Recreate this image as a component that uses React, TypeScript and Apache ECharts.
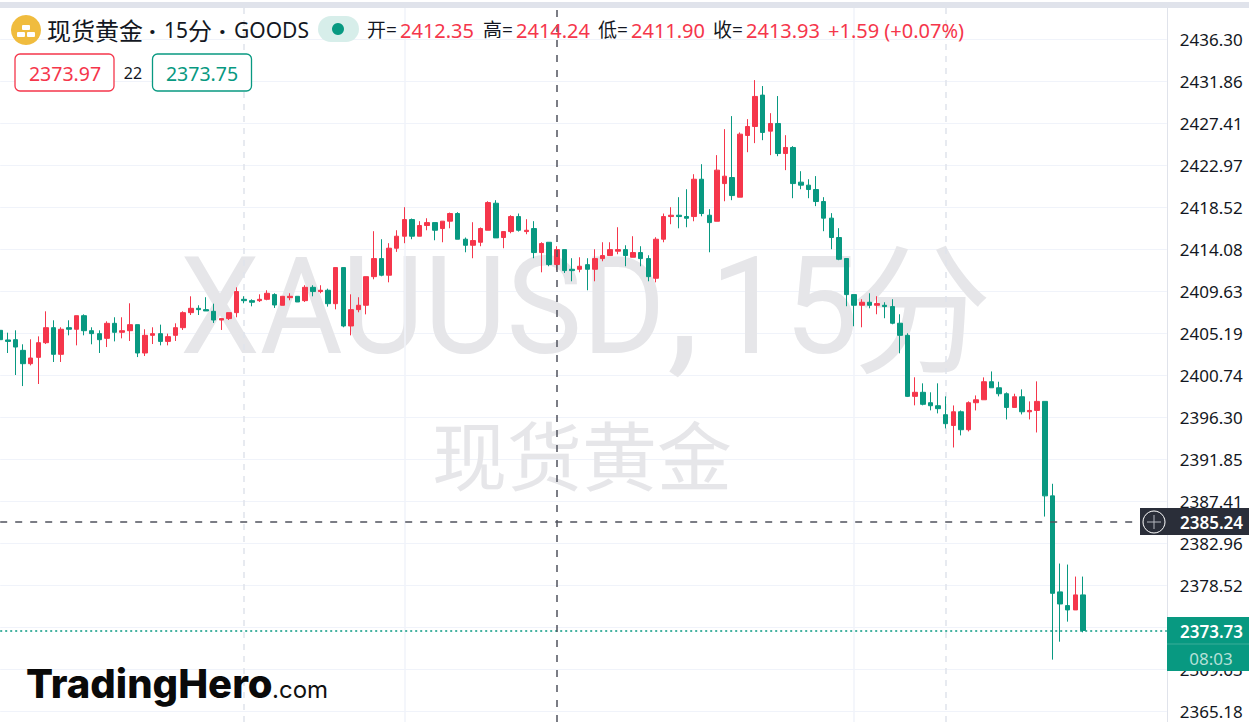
import React, { useEffect, useRef } from "react";
import * as echarts from "echarts";

// [open, close, low, high]
const sessionA = [
  [2405.49,2404.50,2403.72,2407.71],[2404.47,2404.32,2403.09,2405.24],[2404.50,2403.72,2400.76,2405.49],[2403.37,2401.96,2399.59,2404.01],
  [2401.96,2402.56,2401.78,2404.54],[2402.63,2404.18,2399.81,2404.85],[2404.18,2405.77,2404.04,2407.50],[2405.77,2402.95,2402.14,2406.55],
  [2402.95,2405.60,2402.14,2405.81],[2405.77,2405.60,2404.96,2406.55],[2405.60,2407.04,2403.90,2407.04],[2407.04,2405.45,2404.96,2407.18],
  [2405.45,2405.14,2404.01,2405.81],[2405.14,2404.50,2403.09,2405.49],[2404.64,2406.23,2403.72,2406.44],[2406.23,2405.28,2404.32,2406.87],
  [2405.28,2405.45,2404.64,2406.87],[2405.45,2406.09,2404.36,2408.35],[2406.09,2403.09,2402.66,2406.09],[2403.09,2404.96,2402.77,2405.60],
  [2404.96,2405.14,2404.04,2405.81],[2405.14,2404.32,2403.90,2406.09],[2404.32,2404.82,2403.90,2405.14],[2404.96,2405.77,2404.36,2406.23],
  [2405.77,2407.36,2405.53,2407.50],[2407.36,2407.82,2407.11,2409.09],[2407.82,2407.68,2407.11,2408.14],[2407.68,2407.54,2407.54,2408.99],
  [2407.50,2406.58,2406.27,2408.31],[2406.58,2406.73,2405.53,2406.73],[2406.73,2407.36,2406.58,2407.36],[2407.36,2409.59,2406.87,2410.04],
  [2408.77,2408.63,2408.35,2409.09],[2408.63,2408.46,2408.03,2408.77],[2408.63,2408.77,2408.49,2409.30],[2408.77,2409.41,2408.67,2409.73],
  [2409.27,2408.17,2407.86,2409.41],
];
const sessionB = [
  [2408.14,2409.09,2408.14,2409.09],[2408.95,2409.09,2408.67,2409.41],[2409.09,2408.49,2408.49,2409.09],[2408.63,2410.04,2408.49,2410.26],
  [2410.04,2409.59,2409.09,2410.26],[2409.59,2409.73,2409.41,2410.26],[2409.73,2408.31,2408.00,2409.90],[2408.31,2412.13,2407.71,2412.13],
  [2412.13,2405.95,2405.81,2412.13],[2405.95,2407.68,2404.96,2409.30],[2407.68,2408.14,2407.40,2408.99],[2408.14,2411.17,2407.18,2411.17],
  [2411.17,2413.08,2410.89,2415.98],[2413.08,2411.32,2411.21,2415.13],[2411.32,2414.18,2410.57,2414.71],[2414.18,2415.45,2413.79,2416.08],
  [2415.45,2417.21,2414.71,2418.52],[2417.21,2415.45,2415.13,2417.32],[2415.45,2416.58,2415.45,2417.04],[2416.58,2416.89,2416.08,2417.35],
  [2416.89,2416.08,2415.02,2416.89],[2416.26,2417.04,2414.81,2417.04],[2417.04,2417.85,2416.29,2417.95],[2417.85,2415.13,2415.13,2417.99],
  [2415.13,2414.49,2413.75,2415.31],[2414.49,2414.99,2413.12,2416.93],[2414.81,2416.26,2414.39,2416.37],[2416.08,2419.01,2416.08,2419.15],
  [2418.94,2415.27,2415.27,2419.26],[2415.31,2415.94,2414.18,2415.94],[2415.94,2417.53,2415.76,2417.67],[2417.53,2416.08,2415.94,2417.85],
  [2415.94,2416.08,2415.66,2417.25],[2416.26,2413.72,2413.12,2417.04],[2413.72,2414.67,2411.63,2414.81],[2414.81,2412.45,2412.27,2414.81],
  [2412.45,2414.03,2411.85,2414.39],
];
const sessionC = [
  [2414.03,2411.81,2411.56,2414.03],[2411.95,2411.81,2410.68,2413.12],[2411.95,2412.27,2411.63,2413.22],[2412.44,2411.95,2409.73,2413.12],
  [2411.95,2413.08,2410.68,2414.07],[2413.08,2413.40,2412.80,2414.81],[2413.40,2414.03,2413.40,2414.81],[2413.86,2414.03,2413.54,2416.40],
  [2414.03,2413.40,2412.27,2414.49],[2413.22,2413.72,2413.22,2415.45],[2413.72,2413.08,2412.27,2414.39],[2413.08,2411.17,2410.68,2413.43],
  [2411.00,2415.13,2410.57,2415.34],[2415.13,2417.53,2414.81,2417.85],[2417.53,2417.67,2416.72,2418.52],[2417.67,2417.53,2416.29,2419.58],
  [2417.53,2417.35,2416.40,2420.42],[2417.53,2421.48,2417.03,2422.01],[2421.48,2417.85,2417.56,2423.07],[2417.67,2416.89,2413.75,2418.31],
  [2417.03,2422.44,2417.03,2424.03],[2421.02,2421.80,2419.15,2426.78],[2421.66,2419.75,2419.26,2428.16],[2419.58,2426.25,2419.58,2426.43],
  [2426.11,2427.06,2424.34,2427.84],[2427.06,2430.24,2425.30,2431.97],[2430.38,2426.43,2425.61,2431.34],[2426.57,2427.38,2424.03,2428.47],
  [2427.38,2424.20,2423.92,2430.28],[2424.20,2424.84,2422.44,2426.14],[2424.84,2421.02,2419.47,2424.98],[2421.17,2420.85,2420.42,2422.33],
  [2420.85,2420.39,2419.47,2421.48],
];
const sessionD = [
  [2420.39,2419.12,2418.63,2421.81],[2419.12,2417.36,2415.98,2419.58],[2417.36,2415.31,2414.07,2417.89],[2415.31,2413.01,2412.91,2416.30],
  [2413.09,2409.27,2408.04,2413.09],[2409.27,2408.14,2405.92,2409.27],[2408.14,2408.46,2405.81,2408.78],[2408.46,2408.14,2407.82,2409.41],
  [2408.14,2408.32,2407.19,2409.10],[2408.14,2408.00,2406.77,2408.46],[2408.00,2406.24,2406.13,2408.78],[2406.24,2404.96,2403.06,2407.19],
  [2404.96,2398.50,2398.43,2405.18],[2398.50,2398.93,2397.55,2400.52],[2398.93,2397.66,2397.55,2399.88],[2397.83,2397.51,2397.02,2398.93],
  [2397.51,2397.20,2396.70,2399.88],[2396.56,2395.61,2395.11,2398.50],
];
const sessionE = [
  [2395.42,2396.87,2393.09,2397.54],[2396.87,2394.97,2394.37,2397.01],[2394.97,2397.83,2394.79,2397.97],[2397.83,2398.14,2397.01,2398.60],
  [2398.14,2400.05,2398.14,2400.51],[2400.05,2399.41,2399.41,2401.14],[2399.41,2398.78,2398.50,2400.05],[2398.78,2397.33,2396.06,2398.92],
  [2397.33,2398.46,2397.33,2398.78],[2398.46,2396.87,2396.59,2399.24],[2396.87,2397.01,2396.06,2397.97],[2397.01,2397.97,2394.68,2400.09],
  [2397.97,2387.97,2385.78,2397.97],[2387.97,2377.66,2370.64,2389.25],[2377.81,2376.53,2372.54,2380.81],[2376.36,2375.90,2374.66,2380.70],
  [2375.90,2377.49,2375.90,2379.43],[2377.49,2373.73,2373.53,2379.43],
];
const tickLabels = [2436.30,2431.86,2427.41,2422.97,2418.52,2414.08,2409.63,2405.19,2400.74,2396.30,2391.85,2387.41,2382.96,2378.52,2369.63,2365.18];
const gridTicks = [2436.30,2431.86,2427.41,2422.97,2418.52,2414.08,2409.63,2405.19,2400.74,2396.30,2391.85,2387.41,2382.96,2378.52,2374.07,2369.63,2365.18];
const crosshairPrice = 2385.24;
const lastPrice = 2373.73;
const ohlcParts = [
  ["开=", "2412.35"],
  ["高=", "2414.24"],
  ["低=", "2411.90"],
  ["收=", "2413.93"],
];

const RED = "#F5364B";
const GREEN = "#089981";
const LINE = "#F0F3FA";
const EDGE = "#E0E3EB";
const MARK = "#E6E6E9";
const UI = "'Noto Sans','Noto Sans CJK SC',sans-serif";

const STEP = 7.625;
const CATS = 154;

export default function App() {
  const ref = useRef<HTMLDivElement>(null);
  useEffect(() => {
    document.body.style.margin = "0";
    const chart = echarts.init(ref.current!, null, { renderer: "svg" });
    const candles = [...sessionA, ...sessionB, ...sessionC, ...sessionD, ...sessionE];
    const categories = Array.from({ length: CATS }, (_, i) => String(i));
    const txt = (x: number, y: number, text: string, fill: string, fontSize: number, extra: any = {}) => ({
      type: "text", x, y, z: 50,
      style: { text, fill, fontSize, fontFamily: UI, verticalAlign: "middle", ...extra },
    });
    const ohlcX = [367, 483, 598, 713];
    const ohlcEls: any[] = [];
    ohlcParts.forEach(([k, v], i) => {
      ohlcEls.push(txt(ohlcX[i], 30, k, "#131722", 19));
      ohlcEls.push(txt(ohlcX[i] + 33, 30, v, RED, 20));
    });
    chart.setOption({
      animation: false,
      backgroundColor: "#ffffff",
      grid: { left: 0.2, top: 8, width: STEP * (CATS - 1), height: 714 },
      xAxis: { type: "category", data: categories, boundaryGap: false, show: false },
      yAxis: {
        type: "value", position: "right", min: 2364.04, max: 2439.6, scale: true,
        axisLine: { show: true, lineStyle: { color: EDGE } },
        axisTick: { show: false, customValues: gridTicks },
        axisLabel: { customValues: tickLabels, color: "#131722", fontSize: 17, fontFamily: "'Noto Sans',sans-serif", margin: 13, align: "left", formatter: (v: number) => v.toFixed(2), hideOverlap: false },
        splitLine: { show: true, lineStyle: { color: LINE, width: 1 } },
      },
      series: [
        {
          type: "line", data: [], z: 1, silent: true, showSymbol: false,
          markLine: {
            silent: true, symbol: "none", animation: false, z: 1,
            label: { show: false },
            data: [
              { xAxis: "32", lineStyle: { color: EDGE, type: [6, 6], width: 1.5 } },
              { xAxis: "53", lineStyle: { color: LINE, type: "solid", width: 1.5 } },
              { xAxis: "112", lineStyle: { color: LINE, type: "solid", width: 1.5 } },
              { xAxis: "124", lineStyle: { color: EDGE, type: [6, 6], width: 1.5 } },
            ],
          },
        },
        {
          type: "candlestick", data: candles, barWidth: 5, z: 3, clip: false,
          itemStyle: { color: RED, color0: GREEN, borderColor: RED, borderColor0: GREEN, borderWidth: 1 },
          markLine: {
            silent: true, symbol: "none", animation: false, z: 6,
            label: { show: false },
            data: [
              { yAxis: crosshairPrice, lineStyle: { color: "#50535E", type: [7, 8], width: 1.5 } },
              { yAxis: lastPrice, lineStyle: { color: GREEN, type: [2, 3], width: 1.6 } },
              { xAxis: "73", lineStyle: { color: "#50535E", type: [7, 8], width: 1.5 } },
            ],
          },
        },
      ],
      graphic: [
        { type: "text", x: 180, y: 307, scaleX: 0.935, z: 1, style: { text: "XAUUSD", fill: MARK, fontSize: 136, fontFamily: "Roboto,sans-serif", verticalAlign: "middle" } },
        { type: "text", x: 667, y: 297, z: 1, style: { text: ",", fill: MARK, fontSize: 165, fontFamily: "Roboto,sans-serif", verticalAlign: "middle" } },
        { type: "text", x: 710, y: 307, scaleX: 0.97, z: 1, style: { text: "15", fill: MARK, fontSize: 136, fontFamily: "Roboto,sans-serif", verticalAlign: "middle" } },
        { type: "text", x: 851, y: 300, z: 1, style: { text: "分", fill: MARK, fontSize: 141, fontFamily: "'Noto Sans CJK SC',sans-serif", verticalAlign: "middle" } },
        { type: "text", x: 432, y: 452, z: 1, style: { text: "现货黄金", fill: MARK, fontSize: 75, fontFamily: "'Noto Sans CJK SC',sans-serif", verticalAlign: "middle" } },
        { type: "rect", z: 40, shape: { x: 0, y: 0, width: 1249, height: 2 }, style: { fill: "#fff" } },
        { type: "rect", z: 40, shape: { x: 0, y: 2, width: 1249, height: 6 }, style: { fill: EDGE } },
        { type: "circle", z: 50, shape: { cx: 26, cy: 30, r: 15 }, style: { fill: "#F0BC3E" } },
        { type: "rect", z: 51, shape: { x: 22, y: 25, width: 8, height: 5, r: 1 }, style: { fill: "#fff" } },
        { type: "rect", z: 51, shape: { x: 17, y: 32, width: 8, height: 5, r: 1 }, style: { fill: "#fff" } },
        { type: "rect", z: 51, shape: { x: 27, y: 32, width: 8, height: 5, r: 1 }, style: { fill: "#fff" } },
        txt(47, 30, "现货黄金", "#131722", 24),
        txt(149, 30, "·", "#131722", 24, { fontWeight: 700 }),
        txt(164, 30, "15", "#131722", 21),
        txt(188, 30, "分", "#131722", 24),
        txt(219, 30, "·", "#131722", 24, { fontWeight: 700 }),
        txt(234, 30, "GOODS", "#131722", 21),
        { type: "rect", z: 50, shape: { x: 318, y: 16, width: 41, height: 26, r: 13 }, style: { fill: "#D7EEEA" } },
        { type: "circle", z: 51, shape: { cx: 338, cy: 29, r: 6 }, style: { fill: GREEN } },
        ...ohlcEls,
        txt(828, 30, "+1.59 (+0.07%)", RED, 20),
        { type: "rect", z: 50, shape: { x: 15, y: 54, width: 99, height: 37, r: 5 }, style: { fill: "#fff", stroke: RED, lineWidth: 1.3 } },
        txt(65, 73, "2373.97", RED, 19.5, { align: "center" }),
        txt(133, 73, "22", "#131722", 16, { align: "center" }),
        { type: "rect", z: 50, shape: { x: 152.5, y: 54, width: 99, height: 37, r: 5 }, style: { fill: "#fff", stroke: GREEN, lineWidth: 1.3 } },
        txt(202, 73, "2373.75", GREEN, 19.5, { align: "center" }),
        // price scale tags
        { type: "rect", z: 50, shape: { x: 1140, y: 508, width: 109, height: 27 }, style: { fill: "#2A2E39" } },
        { type: "circle", z: 51, shape: { cx: 1154, cy: 522, r: 11 }, style: { fill: "#2A2E39", stroke: "#fff", lineWidth: 1 } },
        { type: "line", z: 52, shape: { x1: 1147, y1: 522, x2: 1161, y2: 522 }, style: { stroke: "#B2B5BE", lineWidth: 1 } },
        { type: "line", z: 52, shape: { x1: 1154, y1: 515, x2: 1154, y2: 529 }, style: { stroke: "#B2B5BE", lineWidth: 1 } },
        txt(1180, 522, crosshairPrice.toFixed(2), "#fff", 17, { fontWeight: 600 }),
        { type: "rect", z: 50, shape: { x: 1167, y: 617, width: 82, height: 54 }, style: { fill: GREEN } },
        { type: "line", z: 51, shape: { x1: 1167, y1: 644, x2: 1249, y2: 644 }, style: { stroke: "#3BAD99", lineWidth: 1 } },
        txt(1180, 631, lastPrice.toFixed(2), "#fff", 17, { fontWeight: 600 }),
        txt(1211, 658, "08:03", "#B5E0D8", 17, { align: "center" }),
        // logo
        { type: "text", x: 26, y: 683, z: 50, style: { text: "TradingHero", fill: "#0A0A0A", fontSize: 40, fontWeight: 800, fontFamily: "Inter,sans-serif", verticalAlign: "middle" } },
        { type: "text", x: 272, y: 689, z: 50, style: { text: ".com", fill: "#111", fontSize: 24, fontFamily: "Inter,sans-serif", verticalAlign: "middle" } },
      ],
    });
    return () => chart.dispose();
  }, []);
  return <div ref={ref} style={{ position: "fixed", left: 0, top: 0, width: 1249, height: 722 }} />;
}
